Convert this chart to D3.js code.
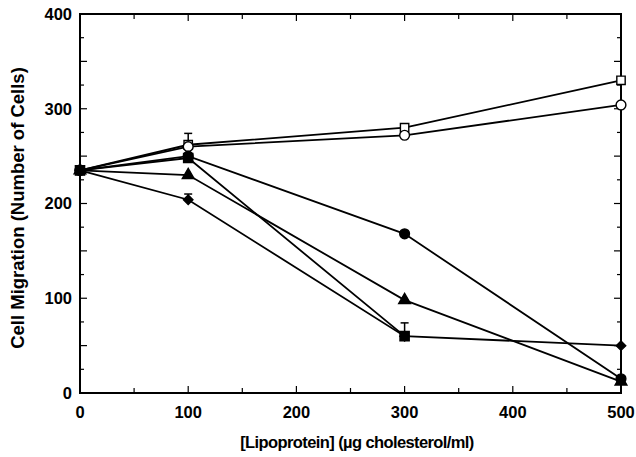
<!DOCTYPE html>
<html>
<head>
<meta charset="utf-8">
<script src="https://cdn.jsdelivr.net/npm/d3@7"></script>
<style>
  body { margin: 0; background: #fff; }
  text { font-family: "Liberation Sans", Arial, sans-serif; font-weight: bold; fill: #000; }
</style>
</head>
<body>
<svg width="636" height="457"></svg>
<script>
"use strict";

// doses and cell counts
var doses = [0, 100, 300, 500];
var openSquare   = [235, 262, 280, 330];
var openCircle   = [235, 260, 272, 304];
var filledCircle = [235, 250, 168, 15];
var triangle     = [235, 230, 98, 12];
var filledSquare = [235, 248, 60, null];
var diamond      = [235, 204, 60, 50];

// upward error bars (only where visible)
var errOpenSquare   = [0, 12, 0, 0];
var errFilledSquare = [0, 0, 14, 0];
var errDiamond      = [0, 6, 0, 0];

var xTicks = [0, 100, 200, 300, 400, 500];
var yTicks = [0, 100, 200, 300, 400];

var series = [
  {values: openSquare, err: errOpenSquare, shape: d3.symbolSquare, size: 70, fill: "#fff", rot: 0},
  {values: openCircle, err: null, shape: d3.symbolCircle, size: 75, fill: "#fff", rot: 0},
  {values: filledCircle, err: null, shape: d3.symbolCircle, size: 75, fill: "#000", rot: 0},
  {values: triangle, err: null, shape: d3.symbolTriangle, size: 60, fill: "#000", rot: 0},
  {values: filledSquare, err: errFilledSquare, shape: d3.symbolSquare, size: 85, fill: "#000", rot: 0},
  {values: diamond, err: errDiamond, shape: d3.symbolSquare, size: 45, fill: "#000", rot: 45}
];

var svg = d3.select("svg");
var margin = {top: 14, right: 15, bottom: 64, left: 80};
var width = 636 - margin.left - margin.right;
var height = 457 - margin.top - margin.bottom;

var x = d3.scaleLinear().domain([0, 500]).range([0, width]);
var y = d3.scaleLinear().domain([0, 400]).range([height, 0]);

var g = svg.append("g").attr("transform", "translate(" + margin.left + "," + margin.top + ")");

// inward ticks on all four sides
var xMinor = d3.range(0, 501, 50);
var yMinor = d3.range(0, 401, 25);

function xLen(v) { return v % 100 === 0 ? 7 : 5; }
function yLen(v) { return v % 50 === 0 ? 7 : 4; }

var ticks = g.append("g").attr("stroke", "#000").attr("stroke-width", 1.2);
xMinor.forEach(function(v) {
  ticks.append("line").attr("x1", x(v)).attr("x2", x(v)).attr("y1", height).attr("y2", height - xLen(v));
  ticks.append("line").attr("x1", x(v)).attr("x2", x(v)).attr("y1", 0).attr("y2", xLen(v));
});
yMinor.forEach(function(v) {
  ticks.append("line").attr("x1", 0).attr("x2", yLen(v)).attr("y1", y(v)).attr("y2", y(v));
  ticks.append("line").attr("x1", width).attr("x2", width - yLen(v)).attr("y1", y(v)).attr("y2", y(v));
});

g.append("rect")
  .attr("width", width).attr("height", height)
  .attr("fill", "none").attr("stroke", "#000").attr("stroke-width", 2);

// tick labels
g.selectAll(".xl").data(xTicks).enter().append("text")
  .attr("x", function(d) { return x(d); })
  .attr("y", height + 25)
  .attr("text-anchor", "middle")
  .style("font-size", "16.5px")
  .text(function(d) { return d; });

g.selectAll(".yl").data(yTicks).enter().append("text")
  .attr("x", -8)
  .attr("y", function(d) { return y(d); })
  .attr("dy", "0.35em")
  .attr("text-anchor", "end")
  .style("font-size", "16.5px")
  .text(function(d) { return d; });

// axis titles
svg.append("text")
  .attr("x", 357)
  .attr("y", 448)
  .attr("text-anchor", "middle")
  .style("font-size", "16.5px")
  .style("letter-spacing", "-0.6px")
  .text("[Lipoprotein] (\u00b5g cholesterol/ml)");

svg.append("text")
  .attr("transform", "translate(24,208) rotate(-90)")
  .attr("text-anchor", "middle")
  .style("font-size", "18.5px")
  .text("Cell Migration (Number of Cells)");

var line = d3.line()
  .defined(function(d) { return d != null; })
  .x(function(d, i) { return x(doses[i]); })
  .y(function(d) { return y(d); });

series.forEach(function(s) {
  g.append("path")
    .datum(s.values)
    .attr("d", line)
    .attr("fill", "none")
    .attr("stroke", "#000")
    .attr("stroke-width", 1.8);
});

// error bars
series.forEach(function(s) {
  if (!s.err) return;
  s.values.forEach(function(v, i) {
    if (v == null || !s.err[i]) return;
    var cx = x(doses[i]);
    g.append("line").attr("x1", cx).attr("x2", cx)
      .attr("y1", y(v)).attr("y2", y(v + s.err[i]))
      .attr("stroke", "#000").attr("stroke-width", 1.5);
    g.append("line").attr("x1", cx - 4).attr("x2", cx + 4)
      .attr("y1", y(v + s.err[i])).attr("y2", y(v + s.err[i]))
      .attr("stroke", "#000").attr("stroke-width", 1.5);
  });
});

// markers
series.forEach(function(s) {
  var sym = d3.symbol().type(s.shape).size(s.size);
  s.values.forEach(function(v, i) {
    if (v == null) return;
    g.append("path")
      .attr("d", sym)
      .attr("transform", "translate(" + x(doses[i]) + "," + y(v) + ") rotate(" + s.rot + ")")
      .attr("fill", s.fill)
      .attr("stroke", "#000")
      .attr("stroke-width", 1.4);
  });
});
</script>
</body>
</html>
